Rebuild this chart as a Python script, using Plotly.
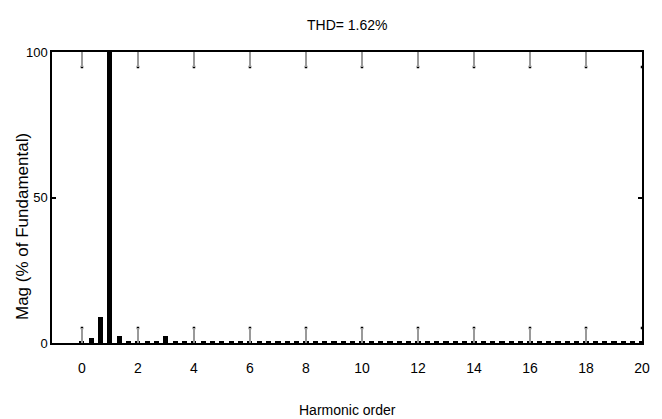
import plotly.graph_objects as go

# FFT bins are spaced at 1/3 of the fundamental (3-cycle analysis window)
bin_step = 1 / 3
harmonic_order = [round(k * bin_step, 4) for k in range(61)]

# Magnitude of each bin, % of the fundamental
mag_pct = [
    0.7, 1.6, 8.8, 100.0, 2.3, 0.7, 0.7, 0.7, 0.7, 2.3,
    0.7, 0.7, 0.7, 0.7, 0.7, 0.7, 0.7, 0.7, 0.7, 0.7,
    0.7, 0.7, 0.7, 0.7, 0.7, 0.7, 0.7, 0.7, 0.7, 0.7,
    0.7, 0.7, 0.7, 0.7, 0.7, 0.7, 0.7, 0.7, 0.7, 0.7,
    0.7, 0.7, 0.7, 0.7, 0.7, 0.7, 0.7, 0.7, 0.7, 0.7,
    0.7, 0.7, 0.7, 0.7, 0.7, 0.7, 0.7, 0.7, 0.7, 0.7,
    0.7,
]

x_ticks = [0, 2, 4, 6, 8, 10, 12, 14, 16, 18, 20]
y_ticks = [0, 50, 100]
thd_text = "THD= 1.62%"

W, H = 662, 419
M_L, M_R, M_T, M_B = 52, 20, 52, 76
plot_h = H - M_T - M_B
X_TICKLEN = 15

narrow = "Liberation Sans Narrow, Arial Narrow, Liberation Sans, Arial, sans-serif"
regular = "Liberation Sans, Arial, sans-serif"

fig = go.Figure()
fig.add_trace(go.Bar(
    x=harmonic_order, y=mag_pct, width=0.18,
    marker=dict(color="black", line=dict(width=0)),
    showlegend=False, hoverinfo="x+y",
))

# small dark caps at the ends of the grey x ticks (top and bottom)
cap_frac = X_TICKLEN / plot_h * 100
fig.add_trace(go.Scatter(
    x=x_ticks + x_ticks,
    y=[cap_frac] * len(x_ticks) + [100 - cap_frac] * len(x_ticks),
    mode="markers", marker=dict(symbol="square", size=2.5, color="black"),
    showlegend=False, hoverinfo="skip", cliponaxis=False,
))

fig.update_layout(
    width=W, height=H,
    margin=dict(l=M_L, r=M_R, t=M_T, b=M_B),
    paper_bgcolor="white", plot_bgcolor="white",
    bargap=0,
    xaxis=dict(
        range=[-1.07, 20], tickvals=x_ticks, ticktext=[str(v) for v in x_ticks],
        ticks="inside", ticklen=X_TICKLEN, tickwidth=1.5, tickcolor="#9a9a9a",
        showline=True, linecolor="black", linewidth=1.5, mirror="ticks",
        showgrid=False, zeroline=False,
        tickfont=dict(family=narrow, size=14, color="black"),
        ticklabelstandoff=11,
    ),
    yaxis=dict(
        range=[0, 100], tickvals=y_ticks, ticktext=[str(v) for v in y_ticks],
        ticks="inside", ticklen=4, tickwidth=1.5, tickcolor="black",
        showline=True, linecolor="black", linewidth=1.5, mirror="ticks",
        showgrid=False, zeroline=False,
        tickfont=dict(family=narrow, size=13, color="black"),
    ),
    annotations=[
        dict(text=thd_text, xref="paper", yref="paper", x=0.5, y=1,
             yshift=27, xanchor="center", yanchor="middle", showarrow=False,
             font=dict(family=narrow, size=14, color="black")),
        dict(text="Harmonic order", xref="paper", yref="paper", x=0.5, y=0,
             yshift=-67, xanchor="center", yanchor="middle", showarrow=False,
             font=dict(family=narrow, size=14, color="black")),
        dict(text="Mag (% of Fundamental)", xref="paper", yref="paper",
             x=0, xshift=-30, y=(H - M_B - 227) / plot_h,
             xanchor="center", yanchor="middle", textangle=-90,
             showarrow=False,
             font=dict(family=regular, size=17, color="black")),
    ],
)

fig.write_html("out.html")
